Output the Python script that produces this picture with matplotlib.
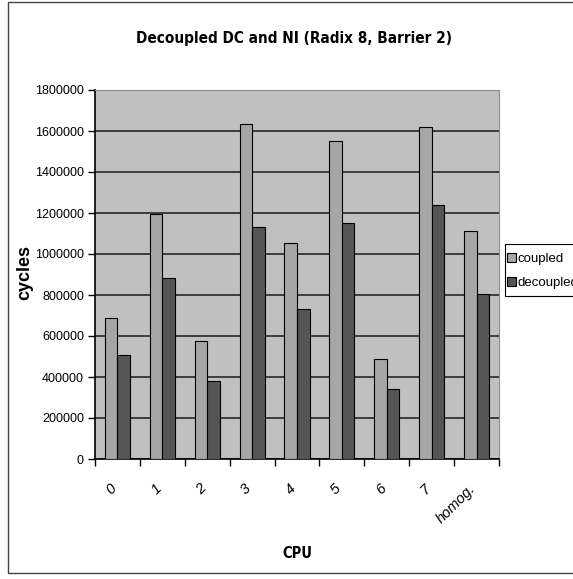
import numpy as np
import matplotlib
matplotlib.use('Agg')
import matplotlib.pyplot as plt
from matplotlib.patches import Rectangle

plt.rcParams['font.family'] = ['Liberation Sans', 'DejaVu Sans']

# data
cpus = ['0', '1', '2', '3', '4', '5', '6', '7', 'homog.']
coupled = [690000, 1195000, 575000, 1633000, 1052000, 1552000, 490000, 1621000, 1112000]
decoupled = [505000, 885000, 380000, 1132000, 733000, 1150000, 340000, 1241000, 805000]
yticks = [0, 200000, 400000, 600000, 800000, 1000000, 1200000, 1400000, 1600000, 1800000]

W, H = 573, 579
fig = plt.figure(figsize=(W / 100, H / 100), dpi=100)
fig.patch.set_facecolor('white')

# outer frame of the chart object
fig.patches.append(Rectangle((8 / W, 1 - 573 / H), 1.0, 571 / H, transform=fig.transFigure,
                             fill=False, edgecolor='#444444', linewidth=1))
# legend box (drawn by hand, Excel style padding)
fig.patches.append(Rectangle((505 / W, 1 - 296 / H), 1.0, 52 / H, transform=fig.transFigure,
                             fill=False, edgecolor='black', linewidth=0.8))

ax = fig.add_axes([95 / W, 1 - 459 / H, 404 / W, 369 / H])
ax.set_facecolor('#c0c0c0')

x = np.arange(len(cpus)) + 0.5
bw = 0.28
ax.bar(x - bw / 2, coupled, bw, color='#a6a6a6', edgecolor='black', linewidth=0.8,
       label='coupled', zorder=3)
ax.bar(x + bw / 2, decoupled, bw, color='#555555', edgecolor='black', linewidth=0.8,
       label='decoupled', zorder=3)

ax.set_xlim(0, len(cpus))
ax.set_ylim(0, 1800000)
ax.set_yticks(yticks)
ax.set_yticklabels([str(v) for v in yticks], fontsize=9)
ax.yaxis.grid(True, color='#333333', linewidth=1.3)
ax.set_axisbelow(True)

# labels sit a bit left of the category centre
ax.set_xticks(x - 0.18)
ax.set_xticklabels(cpus, fontsize=10.5, style='italic', rotation=45, ha='right', va='top',
                   rotation_mode='anchor')
ax.set_xticks(np.arange(len(cpus) + 1), minor=True)
ax.tick_params(axis='x', which='major', length=0, pad=16)
ax.tick_params(axis='x', which='minor', length=5, width=1, direction='out', color='black')
ax.tick_params(axis='y', length=5, width=1, direction='out', pad=3)

for s in ['top', 'right']:
    ax.spines[s].set_color('#8c8c8c')
for s in ['left', 'bottom']:
    ax.spines[s].set_color('black')
    ax.spines[s].set_linewidth(1.2)

leg = ax.legend(loc='upper left', bbox_to_anchor=(507 / W, 1 - 253 / H),
                bbox_transform=fig.transFigure, fontsize=9.5, frameon=False,
                borderpad=0, handlelength=0.7, handleheight=0.7, handletextpad=0.12,
                labelspacing=0.9, borderaxespad=0)
for p in leg.get_patches():
    p.set_edgecolor('black')
    p.set_linewidth(0.8)

fig.text(294 / W, 1 - 38 / H, 'Decoupled DC and NI (Radix 8, Barrier 2)',
         family='DejaVu Sans', stretch='condensed', fontsize=11,
         fontweight='bold', ha='center', va='center')
fig.text(25 / W, 1 - 273 / H, 'cycles', fontsize=13, fontweight='bold',
         rotation=90, ha='center', va='center')
fig.text(297 / W, 1 - 553 / H, 'CPU', family='DejaVu Sans', stretch='condensed',
         fontsize=10.5, fontweight='bold', ha='center', va='center')

fig.savefig('out.png', dpi=100)
